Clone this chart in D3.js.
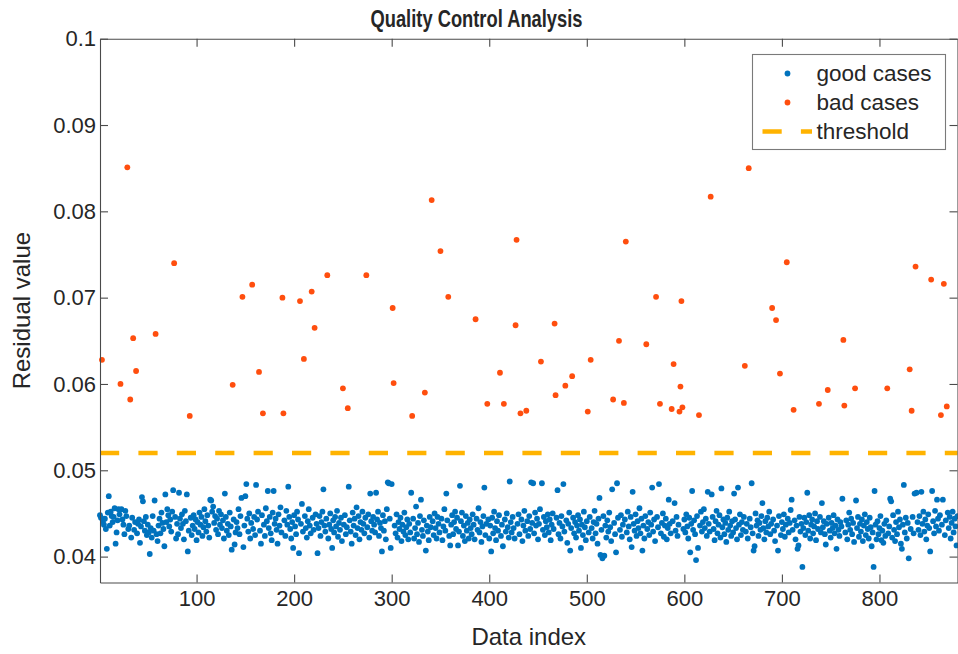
<!DOCTYPE html>
<html>
<head>
<meta charset="utf-8">
<script src="https://cdn.jsdelivr.net/npm/d3@7"></script>
<style>
  html, body { margin: 0; padding: 0; background: #fff; }
  svg { display: block; }
  text { font-family: "Liberation Sans", Arial, Helvetica, sans-serif; fill: #262626; }
</style>
</head>
<body>
<svg id="chart" width="958" height="654"></svg>
<script>
// Residuals of cases within the control limit, one row per 20 data indices
// (null where the index belongs to a bad case).
const goodResidual = [
  [.0448,.0445,null,.0441,.0437,.0444,.0432,.0409,.0451,.0470,.0436,.0452,.0447,.0440,.0446,.0456,.0415,.0428,.0442,.0455],
  [.0449,null,.0455,.0443,.0437,.0426,.0453,.0447,null,.0432,.0436,null,.0422,.0445,null,.0431,.0440,null,.0427,.0438],
  [.0443,.0416,.0435,.0469,.0464,.0441,.0430,.0446,.0425,.0437,.0428,.0403,.0433,.0422,.0447,.0430,.0465,null,.0426,.0418],
  [.0436,.0444,.0427,.0451,.0439,.0432,.0412,.0472,.0440,.0455,.0448,.0435,.0443,.0429,.0452,.0477,null,.0446,.0421,.0438],
  [.0426,.0474,.0444,.0433,.0449,.0438,.0420,.0453,.0441,.0472,.0406,.0430,null,.0445,.0425,.0436,.0448,.0432,.0443,.0419],
  [.0440,.0428,.0451,.0437,.0446,.0424,.0434,.0455,.0441,.0429,.0448,.0436,.0422,.0466,.0465,.0452,.0458,.0439,.0447,.0431],
  [.0444,.0426,.0453,.0437,.0449,.0433,.0442,.0421,.0473,.0446,.0430,.0438,.0425,.0451,.0435,.0408,null,.0443,.0414,.0428],
  [.0440,.0433,.0455,.0426,.0447,.0468,null,.0411,.0436,.0470,.0484,.0444,.0429,.0450,.0421,.0439,null,.0432,.0446,.0425],
  [.0483,.0443,.0452,null,.0430,.0415,.0448,null,.0437,.0424,.0456,.0441,.0476,.0433,.0446,.0427,.0419,.0451,.0476,.0438],
  [.0444,.0431,.0415,.0449,.0436,.0457,.0428,null,null,.0442,.0424,.0453,.0437,.0481,.0446,.0432,.0421,.0440,.0410,.0448],
  [.0435,.0426,.0452,.0443,.0404,null,.0438,.0461,.0429,null,.0447,.0433,.0422,.0441,.0455,.0436,.0427,null,.0445,.0431],
  [null,.0449,.0438,.0404,.0433,.0447,.0424,.0440,.0452,.0478,.0436,.0429,.0444,null,.0421,.0437,.0450,.0432,.0410,.0442],
  [.0428,.0446,.0435,.0453,.0423,.0439,.0431,.0445,.0418,null,.0437,.0448,.0426,.0434,null,.0481,.0442,.0429,.0415,.0451],
  [.0436,.0444,.0425,.0457,.0433,.0447,.0420,.0440,.0431,.0452,.0438,.0427,.0445,null,.0434,.0449,.0422,.0473,.0441,.0430],
  [.0446,.0437,.0428,.0474,.0443,.0452,.0424,.0439,.0433,.0406,.0448,.0430,.0441,.0420,.0455,.0486,.0485,.0444,.0410,.0484],
  [null,null,.0436,.0427,.0449,.0422,.0440,.0432,.0445,.0418,.0437,.0429,.0451,.0425,.0434,.0443,.0420,.0438,.0428,.0474],
  [null,.0444,.0421,.0433,.0458,.0426,.0439,.0417,.0447,.0466,.0431,.0424,.0442,null,.0407,.0436,.0429,.0419,.0446,.0434],
  [null,.0441,.0425,.0450,.0433,.0421,.0446,.0438,.0428,null,.0444,.0419,.0435,.0455,.0430,.0473,.0442,null,.0424,.0413],
  [.0437,.0448,.0426,.0440,.0452,.0432,.0445,.0413,.0429,.0482,.0441,.0451,.0424,.0436,.0418,.0447,.0430,.0439,.0421,.0443],
  [.0433,.0426,.0449,.0437,.0420,null,.0444,.0431,.0456,.0428,.0440,.0417,.0435,.0447,.0480,.0425,.0438,null,.0443,.0421],
  [.0436,.0406,.0445,.0427,.0452,.0433,.0419,.0441,.0430,.0448,null,.0424,.0437,.0412,null,.0443,.0429,.0450,.0434,.0422],
  [.0487,.0440,.0428,.0446,.0433,.0421,null,null,.0438,.0449,.0426,null,.0443,.0418,.0436,.0453,.0430,null,.0441,.0424],
  [.0447,.0432,.0486,.0439,.0485,.0427,.0451,.0436,.0444,.0420,.0438,.0455,null,.0485,.0431,.0446,.0425,.0441,.0434,.0449],
  [.0428,.0443,.0419,.0437,.0450,.0432,null,null,.0445,.0477,.0426,.0439,.0421,.0447,.0435,.0484,.0429,null,.0442,.0416],
  [.0438,.0451,.0407,.0433,null,.0445,.0427,.0440,.0422,.0436,.0448,.0430,.0443,.0410,.0437,.0425,.0452,.0434,.0419,.0441],
  [null,.0428,.0446,null,.0433,.0421,.0440,.0453,.0427,.0438,.0415,.0444,.0468,.0402,.0431,.0398,.0447,.0401,.0436,.0422],
  [.0442,.0429,.0451,.0434,.0418,.0478,null,.0439,.0426,.0405,.0485,.0445,null,.0431,.0448,.0423,.0437,null,.0443,null],
  [.0428,.0452,.0435,.0420,.0446,.0411,.0475,.0438,.0430,.0449,.0424,.0441,.0433,.0456,.0427,.0444,.0407,.0436,.0421,.0447],
  [null,.0432,.0440,.0425,.0451,.0437,.0480,.0429,.0443,.0418,null,.0446,.0434,.0484,null,.0427,.0439,.0450,.0423,.0436],
  [.0444,.0420,.0433,.0466,.0438,.0427,null,.0441,null,.0462,.0430,.0446,.0424,.0437,null,null,null,null,.0432,.0443],
  [.0428,.0449,.0435,.0421,.0445,.0405,.0438,.0476,.0431,.0442,.0426,.0396,.0447,.0410,null,.0436,.0452,.0429,.0440,.0455],
  [.0433,.0444,.0424,.0475,.0438,.0429,null,.0472,.0446,.0432,.0419,.0441,.0453,.0427,.0437,.0448,.0422,.0479,.0434,.0443],
  [.0426,.0439,.0417,.0445,.0431,.0452,.0436,.0424,.0441,.0428,.0473,.0443,.0433,.0420,.0480,.0437,.0449,.0425,.0440,.0431],
  [.0446,null,.0429,.0438,.0421,null,.0444,.0434,.0485,.0427,.0407,.0412,.0450,.0436,.0442,.0424,.0439,.0431,.0447,.0462],
  [.0433,.0420,.0441,.0428,.0445,.0435,.0452,.0426,.0438,null,.0443,.0430,.0418,null,.0436,.0407,.0447,null,.0425,.0440],
  [.0432,.0449,.0423,.0437,null,.0444,.0428,.0439,.0454,.0466,.0431,null,.0442,.0420,.0436,.0409,.0413,.0446,.0429,.0438],
  [.0388,.0433,.0445,.0425,.0440,.0474,.0430,.0448,.0421,.0437,.0443,.0427,.0435,.0450,.0419,.0441,.0432,null,.0446,.0428],
  [.0462,.0434,.0441,.0426,.0414,.0438,null,.0445,.0430,.0422,.0439,.0433,.0448,.0427,.0436,.0409,.0443,.0431,.0424,.0440],
  [.0435,.0467,null,null,.0428,.0442,.0420,.0437,.0451,.0431,.0444,.0426,.0439,.0417,null,.0465,.0433,.0446,.0423,.0438],
  [.0429,.0443,.0418,.0436,.0449,.0425,.0440,.0432,.0421,.0445,.0434,.0412,.0428,.0388,.0476,.0437,.0420,.0441,.0426,.0433],
  [.0447,.0419,.0430,.0416,.0438,.0424,.0442,null,.0427,.0435,.0467,.0464,.0422,.0448,.0431,.0418,.0440,.0426,.0452,.0434],
  [.0443,.0415,.0409,.0437,.0483,.0428,.0445,.0421,.0439,.0398,null,.0432,null,.0446,.0427,.0473,null,.0474,.0440,.0431],
  [.0447,.0425,.0475,.0438,.0452,.0429,.0443,.0420,.0436,.0449,.0433,.0406,null,.0476,.0441,.0427,.0453,.0435,.0466,.0444],
  [.0430,.0448,null,.0437,.0466,null,.0425,.0442,null,.0451,.0433,.0446,.0421,.0439,.0452,.0428,.0444,.0435,.0413,.0447]
];

// Cases whose residual exceeds the threshold.
const badIndex = [3,22,29,32,35,38,58,77,93,137,147,157,164,168,188,189,206,210,218,221,
  234,250,255,274,301,302,321,334,341,350,358,386,398,411,415,427,428,432,438,453,
  467,468,478,485,501,504,527,533,538,540,561,571,575,587,589,595,596,597,598,615,
  627,662,666,690,694,698,705,712,738,747,763,764,775,808,831,833,837,853,863,866,869];
const badResidual = [.0628,.0600,.0851,.0582,.0653,.0615,.0658,.0740,.0563,.0599,.0701,.0715,.0614,.0566,.0700,.0566,.0696,.0629,.0707,.0665,
  .0726,.0595,.0572,.0726,.0688,.0601,.0563,.0590,.0813,.0754,.0701,.0675,.0577,.0613,.0577,.0668,.0767,.0566,.0569,.0626,
  .0670,.0587,.0598,.0609,.0568,.0628,.0582,.0650,.0578,.0765,.0646,.0701,.0577,.0571,.0623,.0568,.0597,.0696,.0573,.0564,
  .0817,.0621,.0850,.0688,.0674,.0612,.0741,.0570,.0577,.0593,.0651,.0575,.0595,.0595,.0617,.0569,.0736,.0721,.0564,.0716,.0574];

const threshold = 0.052;
const indexRange = [1, 880];
const residualRange = [0.037, 0.1];
const xTickValues = [100, 200, 300, 400, 500, 600, 700, 800];
const yTickValues = [0.04, 0.05, 0.06, 0.07, 0.08, 0.09, 0.1];
const yTickLabels = ["0.04", "0.05", "0.06", "0.07", "0.08", "0.09", "0.1"];
const seriesNames = ["good cases", "bad cases", "threshold"];

const colors = { good: "#0072BD", bad: "#FF4E0E", threshold: "#FFB300", axis: "#4a4a4a" };

const svg = d3.select("#chart");
const plot = { left: 100, right: 957.5, top: 38.7, bottom: 582.5 };

const x = d3.scaleLinear().domain(indexRange).range([plot.left, plot.right]);
const y = d3.scaleLinear().domain(residualRange).range([plot.bottom, plot.top]);

const good = [];
goodResidual.forEach((row, r) => row.forEach((v, c) => {
  if (v !== null) good.push({ i: r * 20 + c + 1, v });
}));
const bad = badIndex.map((i, k) => ({ i, v: badResidual[k] }));

// Threshold line
svg.append("line")
  .attr("x1", x(indexRange[0])).attr("x2", x(indexRange[1]))
  .attr("y1", y(threshold)).attr("y2", y(threshold))
  .attr("stroke", colors.threshold).attr("stroke-width", 4.6)
  .attr("stroke-dasharray", "19.2,19.2");

// Points
const r = 2.9;
svg.append("g").selectAll("circle").data(good).join("circle")
  .attr("cx", d => x(d.i)).attr("cy", d => y(d.v)).attr("r", r)
  .attr("fill", colors.good);
svg.append("g").selectAll("circle").data(bad).join("circle")
  .attr("cx", d => x(d.i)).attr("cy", d => y(d.v)).attr("r", r)
  .attr("fill", colors.bad);

// Axes (ticks pointing inward on all four sides)
const tickLen = 8;
const fontTick = 22;
const axisStyle = g => {
  g.select(".domain").attr("stroke", colors.axis).attr("stroke-width", 1.1);
  g.selectAll(".tick line").attr("stroke", colors.axis).attr("stroke-width", 1.1);
  g.selectAll(".tick text").attr("font-size", fontTick).attr("fill", "#262626")
    .style("font-family", '"Liberation Sans", Arial, sans-serif');
};

svg.append("g").attr("transform", `translate(0,${plot.bottom})`)
  .call(d3.axisBottom(x).tickValues(xTickValues).tickSizeInner(-tickLen).tickSizeOuter(0).tickPadding(8))
  .call(axisStyle);
svg.append("g").attr("transform", `translate(0,${plot.top})`)
  .call(d3.axisTop(x).tickValues(xTickValues).tickSizeInner(-tickLen).tickSizeOuter(0).tickFormat(""))
  .call(axisStyle);
svg.append("g").attr("transform", `translate(${plot.left},0)`)
  .call(d3.axisLeft(y).tickValues(yTickValues).tickSizeInner(-tickLen).tickSizeOuter(0).tickPadding(4)
    .tickFormat((d, k) => yTickLabels[k]))
  .call(axisStyle);
svg.append("g").attr("transform", `translate(${plot.right},0)`)
  .call(d3.axisRight(y).tickValues(yTickValues).tickSizeInner(-tickLen).tickSizeOuter(0).tickFormat(""))
  .call(axisStyle);

// Titles (the bold title uses a condensed setting)
svg.append("text")
  .attr("x", 476.5).attr("y", 27)
  .attr("text-anchor", "middle").attr("font-size", 24).attr("font-weight", "bold")
  .attr("fill", "#000")
  .attr("textLength", 212).attr("lengthAdjust", "spacingAndGlyphs")
  .text("Quality Control Analysis");
svg.append("text")
  .attr("x", (plot.left + plot.right) / 2).attr("y", 645)
  .attr("text-anchor", "middle").attr("font-size", 24)
  .text("Data index");
svg.append("text")
  .attr("transform", `translate(30,${(plot.top + plot.bottom) / 2}) rotate(-90)`)
  .attr("text-anchor", "middle").attr("font-size", 24)
  .text("Residual value");

// Legend
const legend = svg.append("g");
legend.append("rect")
  .attr("x", 752.5).attr("y", 54.5).attr("width", 193).attr("height", 95)
  .attr("fill", "#fff").attr("stroke", "#7a7a7a").attr("stroke-width", 1.1);
const rowsY = [73.5, 102.5, 131.5];
legend.append("circle").attr("cx", 787.5).attr("cy", rowsY[0]).attr("r", r).attr("fill", colors.good);
legend.append("circle").attr("cx", 787.5).attr("cy", rowsY[1]).attr("r", r).attr("fill", colors.bad);
legend.append("line")
  .attr("x1", 762.5).attr("x2", 812).attr("y1", rowsY[2]).attr("y2", rowsY[2])
  .attr("stroke", colors.threshold).attr("stroke-width", 4.6)
  .attr("stroke-dasharray", "19.2,19.2");
legend.selectAll("text.lbl").data(seriesNames).join("text")
  .attr("class", "lbl")
  .attr("x", 816.5).attr("y", (d, k) => rowsY[k])
  .attr("dy", "0.35em").attr("font-size", 22.5).attr("fill", "#000")
  .text(d => d);
</script>
</body>
</html>
